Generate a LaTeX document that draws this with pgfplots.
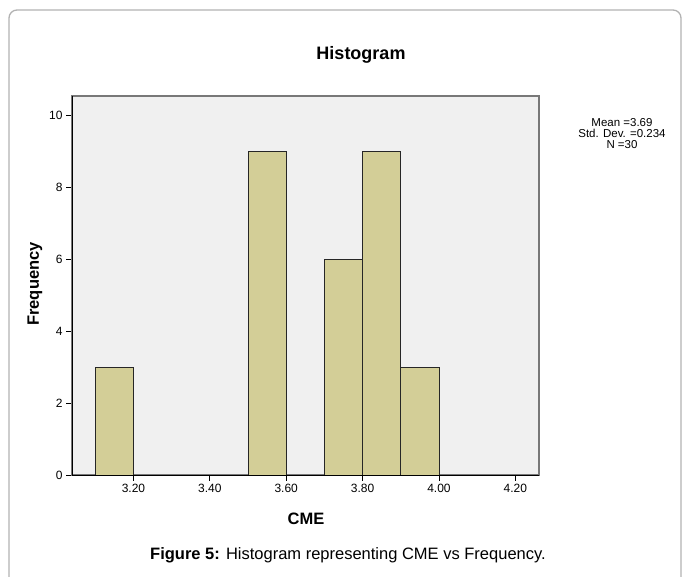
\documentclass[border=0pt]{standalone}
\usepackage{fontspec}
\setmainfont{Liberation Sans}
\usepackage{pgfplots}
\pgfplotsset{compat=1.18}
\definecolor{barfill}{RGB}{211,206,151}
\definecolor{plotbg}{RGB}{240,240,240}
\definecolor{framegray}{RGB}{178,178,178}
\definecolor{boxgray}{RGB}{120,120,120}

\begin{document}
\begin{tikzpicture}[x=1pt,y=1pt]
\useasboundingbox (0,0) rectangle (683,576);
% outer chart frame (open at the bottom, as in the page crop)
\draw[framegray, line width=1.3pt, rounded corners=8pt] (9,-20) -- (9,566) -- (681,566) -- (681,-20);

\begin{axis}[
  at={(72pt,101pt)}, anchor=south west,
  scale only axis, width=467pt, height=379pt,
  xmin=3.039, xmax=4.262, ymin=0, ymax=10.54,
  axis background/.style={fill=plotbg},
  axis line style={draw=boxgray, line width=1.3pt},
  xtick={3.2,3.4,3.6,3.8,4.0,4.2}, ytick={0,2,4,6,8,10},
  tick align=outside, major tick length=6pt,
  xtick pos=bottom, ytick pos=left,
  tick style={black, line width=0.7pt},
  tick label style={font=\fontsize{12}{14}\selectfont},
  xticklabel style={/pgf/number format/fixed, /pgf/number format/fixed zerofill, /pgf/number format/precision=2},
  /pgf/number format/assume math mode=true,
]
\addplot[ybar interval, fill=barfill, draw=black!85, line width=0.8pt] coordinates {(3.1,3) (3.2,3)};
\addplot[ybar interval, fill=barfill, draw=black!85, line width=0.8pt] coordinates {(3.5,9) (3.6,9)};
\addplot[ybar interval, fill=barfill, draw=black!85, line width=0.8pt] coordinates {(3.7,6) (3.8,9) (3.9,3) (4.0,3)};
\draw[black, line width=0.8pt] (rel axis cs:0,1) -- (rel axis cs:0,0) -- (rel axis cs:1,0);
\end{axis}

\node[font=\bfseries\fontsize{18}{20}\selectfont] at (361,521) {Histogram};
\node[align=center, font=\fontsize{11.5}{11}\selectfont] at (622,442) {Mean =3.69\\Std. Dev. =0.234\\N =30};
\node[rotate=90, font=\bfseries\fontsize{16.5}{18}\selectfont] at (35,292) {Frequency};
\node[font=\bfseries\fontsize{16.5}{18}\selectfont] at (306,57) {CME};
\node[font=\fontsize{16.5}{18}\selectfont] at (348,21) {\textbf{Figure 5:} Histogram representing CME vs Frequency.};
\end{tikzpicture}
\end{document}
